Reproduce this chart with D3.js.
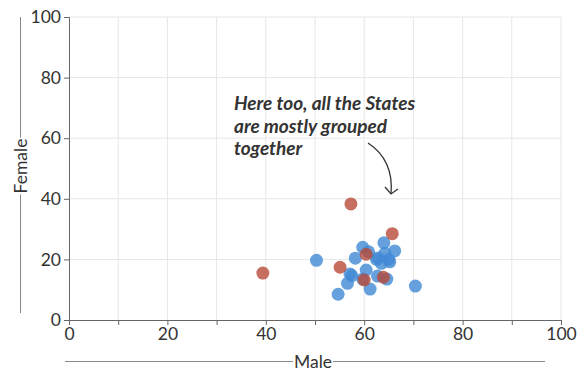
<!DOCTYPE html>
<html><head><meta charset="utf-8">
<script src="https://cdn.jsdelivr.net/npm/d3@7"></script>
<style>
html,body{margin:0;padding:0;background:#fff;}
svg{display:block;font-family:Lato,"Open Sans",sans-serif;}
</style></head>
<body><svg id="c" width="582" height="371"></svg>
<script>
const xTickValues = [0,10,20,30,40,50,60,70,80,90,100];
const xLabelValues = [0,20,40,60,80,100];
const yTickValues = [0,20,40,60,80,100];
const blueMale   = [50.3,59.7,60.9,58.2,64.0,66.2,64.2,62.5,63.5,65.2,65.0,62.8,60.4,57.1,57.5,56.6,54.7,59.7,61.2,62.7,64.6,70.4];
const blueFemale = [19.7,24.0,22.5,20.4,25.5,22.8,22.0,20.0,18.7,19.2,20.0,20.5,16.5,15.2,14.6,12.1,8.5,13.5,10.2,14.5,13.5,11.2];
const redMale    = [57.3,65.7,60.4,55.1,60.0,63.9,39.4];
const redFemale  = [38.3,28.5,21.7,17.4,13.2,14.1,15.5];
const annotationLines = ["Here too, all the States","are mostly grouped","together"];
const xTitle = "Male", yTitle = "Female";

const svg = d3.select("#c");
const x = d3.scaleLinear().domain([0,100]).range([69,561]);
const y = d3.scaleLinear().domain([0,100]).range([320,17]);

// grid
svg.append("g").selectAll("line").data(xTickValues.filter(d=>d>0)).join("line")
  .attr("x1",d=>x(d)).attr("x2",d=>x(d)).attr("y1",y(0)).attr("y2",y(100))
  .attr("stroke","#e6e6e6").attr("stroke-width",1);
svg.append("g").selectAll("line").data(yTickValues.filter(d=>d>0)).join("line")
  .attr("x1",x(0)).attr("x2",x(100)).attr("y1",d=>y(d)).attr("y2",d=>y(d))
  .attr("stroke","#e6e6e6").attr("stroke-width",1);

// axes
const xAxis = svg.append("g").attr("transform",`translate(0,${y(0)})`)
  .call(d3.axisBottom(x).tickValues(xTickValues).tickSize(5).tickPadding(3)
    .tickFormat(d=>xLabelValues.includes(d)?d:""));
const yAxis = svg.append("g").attr("transform",`translate(${x(0)},0)`)
  .call(d3.axisLeft(y).tickValues(yTickValues).tickSize(5).tickPadding(3));
[xAxis,yAxis].forEach(g=>{
  g.select(".domain").attr("stroke","#666");
  g.selectAll(".tick line").attr("stroke","#666");
  g.selectAll("text").attr("fill","#333").style("font-size","17.5px").style("font-family","Lato,sans-serif");
});

// axis titles with lines
const xt = svg.append("text").attr("x",313).attr("y",368).attr("text-anchor","middle")
  .attr("fill","#333").style("font-size","17.5px").text(xTitle);
const xb = xt.node().getBBox();
svg.append("line").attr("x1",65).attr("x2",xb.x-1).attr("y1",361.5).attr("y2",361.5).attr("stroke","#888");
svg.append("line").attr("x1",xb.x+xb.width+1).attr("x2",545).attr("y1",361.5).attr("y2",361.5).attr("stroke","#888");

const yt = svg.append("text").attr("transform","translate(26.5,166) rotate(-90)").attr("text-anchor","middle")
  .attr("fill","#333").style("font-size","17.5px").text(yTitle);
const yb = yt.node().getBBox();
const half = yb.width/2;
svg.append("line").attr("x1",20.5).attr("x2",20.5).attr("y1",17).attr("y2",166-half-1).attr("stroke","#888");
svg.append("line").attr("x1",20.5).attr("x2",20.5).attr("y1",166+half+1).attr("y2",313).attr("stroke","#888");

// points
svg.append("g").selectAll("circle").data(blueMale.map((m,i)=>[m,blueFemale[i]])).join("circle")
  .attr("cx",d=>x(d[0])).attr("cy",d=>y(d[1])).attr("r",6.5)
  .attr("fill","#4189d4").attr("fill-opacity",0.8);
svg.append("g").selectAll("circle").data(redMale.map((m,i)=>[m,redFemale[i]])).join("circle")
  .attr("cx",d=>x(d[0])).attr("cy",d=>y(d[1])).attr("r",6.5)
  .attr("fill","#b84a38").attr("fill-opacity",0.8);

// annotation
const ann = svg.append("text").attr("fill","#333").style("font-size","19px")
  .style("font-style","italic").style("font-weight","700");
annotationLines.forEach((t,i)=>ann.append("tspan").attr("x",234).attr("y",110+i*22.5).text(t));

const ax0 = 368, ay0 = 143, ax1 = 391, ay1 = 194;
svg.append("path").attr("d",`M${ax0},${ay0} Q${394},${160} ${ax1},${ay1}`)
  .attr("fill","none").attr("stroke","#333").attr("stroke-width",1.3);
svg.append("path").attr("d",`M${ax1-6},${ay1-7} L${ax1},${ay1} L${ax1+7},${ay1-5}`)
  .attr("fill","none").attr("stroke","#333").attr("stroke-width",1.3);
</script></body></html>
